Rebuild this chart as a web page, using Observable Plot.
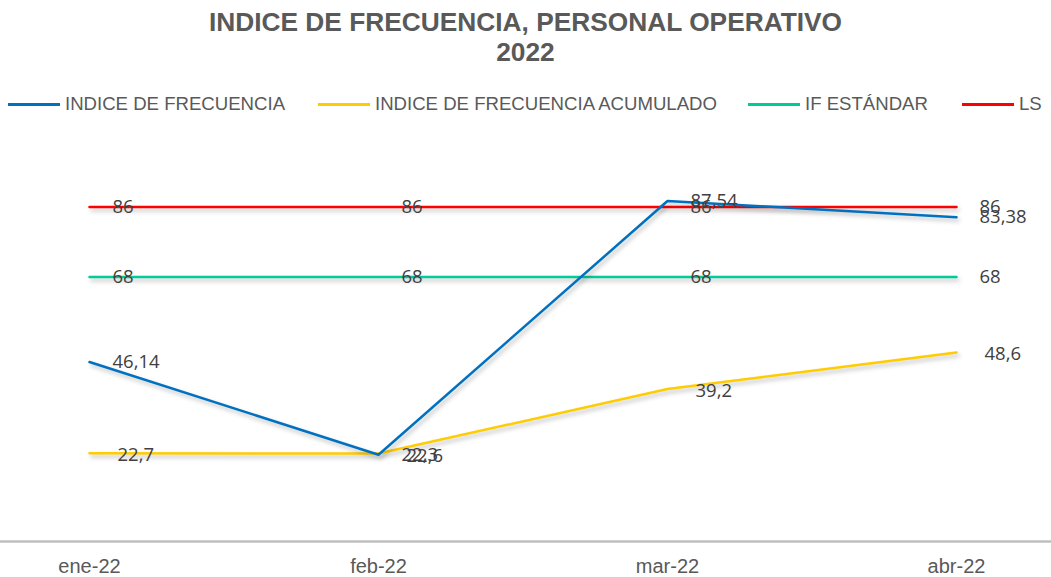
<!DOCTYPE html>
<html><head><meta charset="utf-8">
<script src="https://cdn.jsdelivr.net/npm/d3@7"></script>
<script src="https://cdn.jsdelivr.net/npm/@observablehq/plot@0.6"></script>
<style>
body{margin:0;width:1051px;height:577px;overflow:hidden;background:#fff;font-family:"Liberation Sans",Arial,sans-serif;}
#title{height:80px;text-align:center;color:#595959;font-weight:bold;font-size:26.3px;line-height:30px;padding-top:7px;box-sizing:border-box}
#legend{position:relative;height:40px}
.item{position:absolute;top:14px;height:20px;display:flex;align-items:center;color:#595959;font-size:18.6px;white-space:nowrap}
.sw{width:52px;height:3px;margin-right:5px}
#chart svg g[aria-label="line"] path{filter:drop-shadow(2px 3px 2px rgba(0,0,0,0.25));}
</style></head>
<body>
<div id="title">INDICE DE FRECUENCIA, PERSONAL OPERATIVO<br>2022</div>
<div id="legend"></div>
<div id="chart"></div>
<script>
const months = ["ene-22", "feb-22", "mar-22", "abr-22"];
const seriesNames = ["INDICE DE FRECUENCIA", "INDICE DE FRECUENCIA ACUMULADO", "IF ESTÁNDAR", "LS"];
const seriesColors = ["#0070C0", "#FFCC00", "#00CC99", "#FF0000"];
const indiceFrecuencia = [46.14, 22.3, 87.54, 83.38];
const indiceAcumulado = [22.7, 22.6, 39.2, 48.6];
const ifEstandar = [68, 68, 68, 68];
const ls = [86, 86, 86, 86];

const allSeries = [indiceFrecuencia, indiceAcumulado, ifEstandar, ls];
const data = [];
// draw order: LS, IF std, IFA, IF (blue on top)
[3, 2, 1, 0].forEach(s => allSeries[s].forEach((v, i) => data.push({series: seriesNames[s], month: months[i], value: v})));

// legend
const legendLeft = [8, 318, 748, 962];
const legend = document.getElementById("legend");
seriesNames.forEach((n, i) => {
  const d = document.createElement("div");
  d.className = "item";
  d.style.left = legendLeft[i] + "px";
  d.innerHTML = `<div class="sw" style="background:${seriesColors[i]}"></div><span>${n}</span>`;
  legend.appendChild(d);
});

const fmt = v => String(v).replace(".", ",");
const labelStyle = {x: "month", y: "value", text: d => fmt(d.value), textAnchor: "start", fontSize: 18.5, fill: "#404040", fontFamily: "Open Sans, sans-serif"};

const chart = Plot.plot({
  width: 1051,
  height: 457,
  marginLeft: 0,
  marginRight: 0,
  marginTop: 32,
  marginBottom: 36,
  x: {type: "point", domain: months, range: [88, 957], padding: 0, label: null},
  y: {domain: [0, 100], axis: null},
  color: {domain: seriesNames, range: seriesColors},
  style: {fontFamily: "Liberation Sans, Arial, sans-serif", background: "white", overflow: "visible"},
  marks: [
    Plot.ruleY([0], {stroke: "#BFBFBF", strokeWidth: 2.5}),
    Plot.axisX({tickSize: 0, tickPadding: 17, fontSize: 20, color: "#595959", label: null}),
    Plot.line(data, {x: "month", y: "value", z: "series", stroke: "series", strokeWidth: 2.5}),
    Plot.text(data.filter(d => d.series !== seriesNames[1]), {...labelStyle, dx: 23}),
    Plot.text(data.filter(d => d.series === seriesNames[1]), {...labelStyle, dx: 28, dy: 2})
  ]
});
document.getElementById("chart").appendChild(chart);
</script>
</body></html>
